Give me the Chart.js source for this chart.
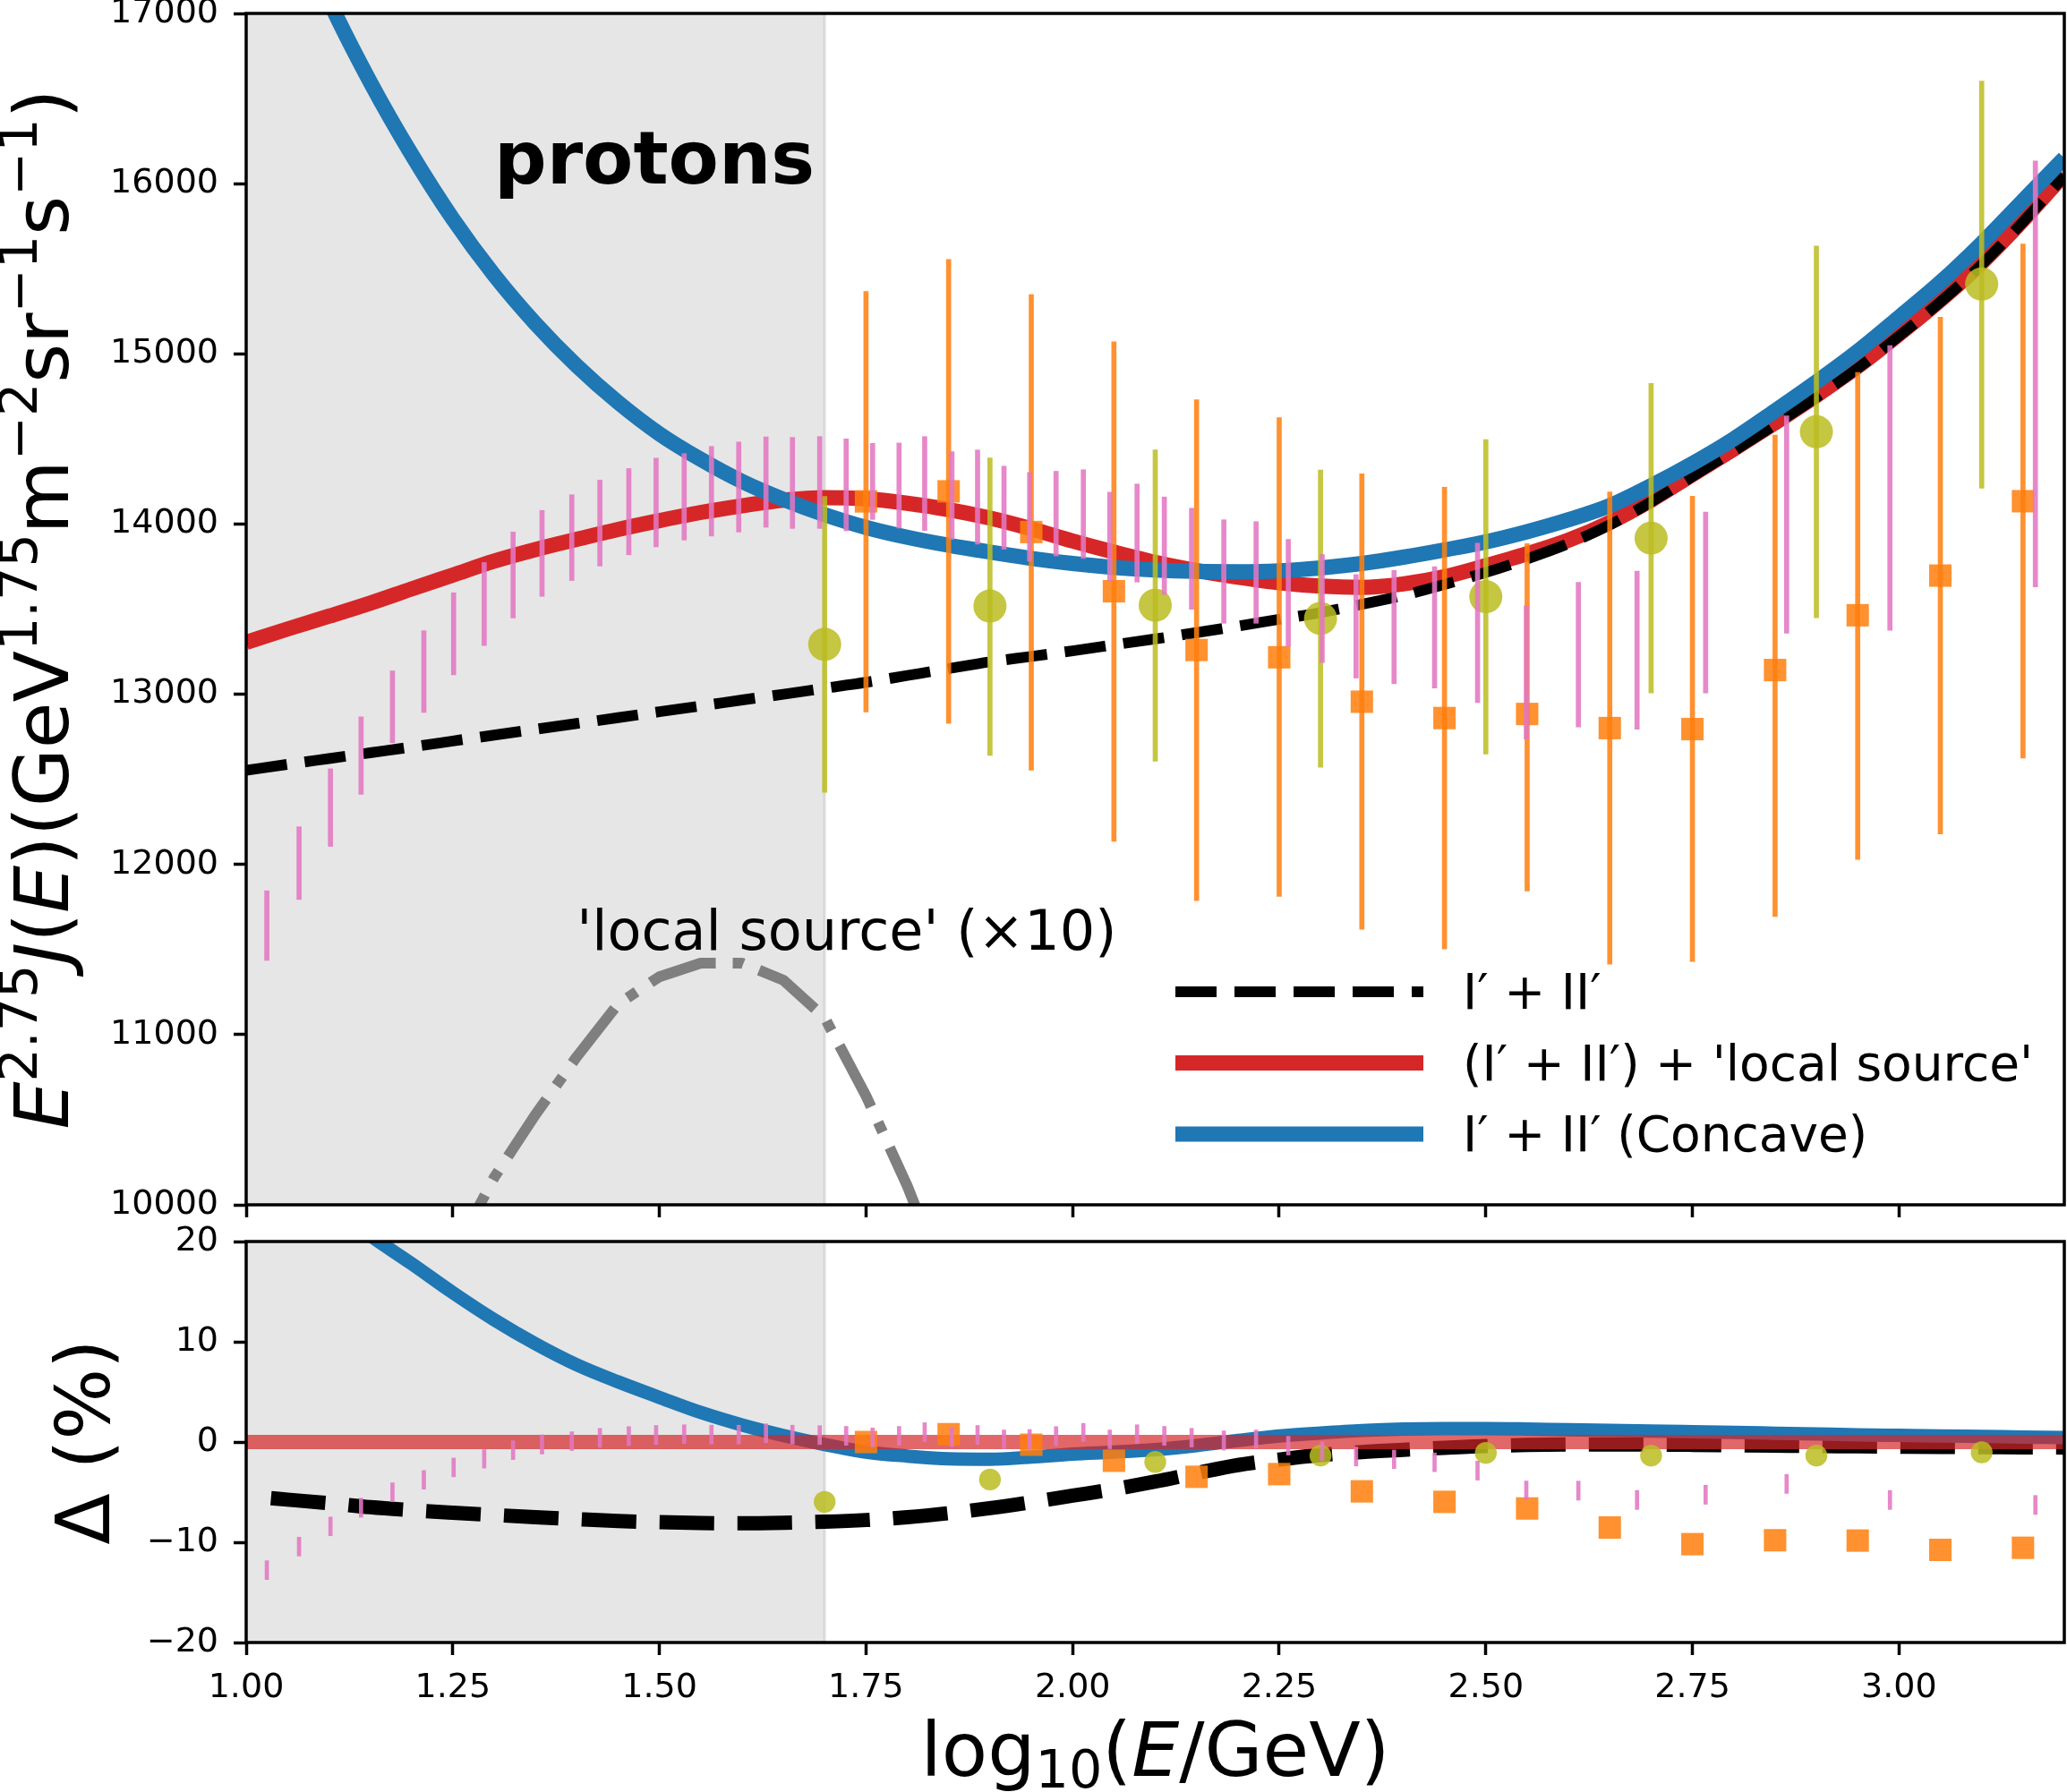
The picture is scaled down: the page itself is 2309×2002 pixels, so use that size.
<!DOCTYPE html>
<html>
<head>
<meta charset="utf-8">
<script src="https://cdn.jsdelivr.net/npm/chart.js@4.4.1/dist/chart.umd.min.js"></script>
<style>
  html, body { margin: 0; padding: 0; background: #fff; }
  #wrap { position: relative; width: 2309px; height: 2002px; overflow: hidden; background: #fff; }
  #wrap canvas { position: absolute; left: 0; }
  #topCanvas { top: -40px; width: 2309px; height: 1440px; }
  #bottomCanvas { top: 1340px; width: 2309px; height: 662px; }
</style>
</head>
<body>
<div id="wrap">
  <canvas id="topCanvas" width="2309" height="1440"></canvas>
  <canvas id="bottomCanvas" width="2309" height="662"></canvas>
</div>
<script>
// ---- axes ----
const xTickVals = [1.00, 1.25, 1.50, 1.75, 2.00, 2.25, 2.50, 2.75, 3.00];
const fluxTickVals = [10000, 11000, 12000, 13000, 14000, 15000, 16000, 17000];
const deltaTickVals = [-20, -10, 0, 10, 20];
const shadeRange = [1.00, 1.70];

// ---- model curves (top panel) ----
const modelX = [1.00, 1.05, 1.10, 1.15, 1.20, 1.25, 1.30, 1.35, 1.40, 1.45, 1.50, 1.55, 1.60, 1.65, 1.70,
  1.75, 1.80, 1.85, 1.90, 1.95, 2.00, 2.05, 2.10, 2.15, 2.20, 2.25, 2.30, 2.35, 2.40, 2.45, 2.50,
  2.55, 2.60, 2.65, 2.70, 2.75, 2.80, 2.85, 2.90, 2.95, 3.00, 3.05, 3.10, 3.15, 3.20];
const fluxBase = [12553, 12588, 12622, 12656, 12690, 12725, 12760, 12794, 12828, 12862, 12897, 12931, 12966, 13000, 13035,
  13070, 13110, 13150, 13190, 13222, 13255, 13290, 13325, 13362, 13400, 13440, 13480, 13528, 13580, 13645, 13715,
  13795, 13885, 13995, 14130, 14280, 14430, 14585, 14745, 14915, 15105, 15305, 15525, 15775, 16045];
const fluxLocal = [13305, 13383, 13458, 13535, 13618, 13700, 13782, 13850, 13910, 13968, 14020, 14068, 14107, 14140, 14155,
  14148, 14122, 14085, 14035, 13972, 13900, 13835, 13775, 13727, 13688, 13655, 13635, 13628, 13648, 13690, 13755,
  13825, 13905, 14010, 14140, 14290, 14440, 14595, 14755, 14925, 15115, 15315, 15535, 15785, 16055];
const fluxConcave = [18300, 17650, 17078, 16598, 16173, 15793, 15463, 15178, 14930, 14715, 14530, 14380, 14250, 14145, 14055,
  13980, 13922, 13875, 13835, 13798, 13768, 13745, 13730, 13722, 13720, 13725, 13742, 13768, 13805, 13848, 13895,
  13955, 14025, 14108, 14225, 14355, 14500, 14665, 14835, 15015, 15215, 15420, 15650, 15900, 16150];
const localX = [1.25, 1.30, 1.35, 1.40, 1.45, 1.50, 1.55, 1.60, 1.65, 1.70, 1.75, 1.80, 1.85];
const localSrcX10 = [9700, 10160, 10530, 10870, 11180, 11340, 11420, 11420, 11320, 11100, 10640, 10110, 9500];

// ---- data: pink (error bars only) ----
const pinkX = [1.025, 1.064, 1.102, 1.139, 1.177, 1.215, 1.251, 1.288, 1.323, 1.358, 1.394, 1.428, 1.463, 1.496,
  1.530, 1.563, 1.596, 1.629, 1.661, 1.694, 1.726, 1.758, 1.790, 1.821, 1.854, 1.885, 1.917, 1.948, 1.980,
  2.013, 2.045, 2.078, 2.111, 2.144, 2.183, 2.222, 2.261, 2.302, 2.343, 2.389, 2.438, 2.490, 2.549, 2.612,
  2.683, 2.766, 2.864, 2.989, 3.165];
const pinkLo = [11436, 11794, 12106, 12412, 12715, 12893, 13114, 13286, 13448, 13575, 13668, 13753, 13819, 13866,
  13906, 13929, 13953, 13981, 13974, 13974, 13960, 14027, 13976, 13962, 13910, 13882, 13852, 13782, 13812,
  13798, 13663, 13659, 13586, 13499, 13417, 13417, 13281, 13186, 13095, 13062, 13036, 12951, 12737, 12807,
  12795, 13008, 13359, 13375, 13630];
const pinkHi = [11845, 12221, 12562, 12867, 13137, 13373, 13596, 13774, 13953, 14080, 14172, 14258, 14326, 14387,
  14414, 14456, 14482, 14512, 14509, 14514, 14500, 14474, 14476, 14514, 14425, 14435, 14340, 14303, 14310,
  14319, 14187, 14235, 14159, 14093, 14025, 14014, 13910, 13821, 13703, 13727, 13750, 13887, 13519, 13658,
  13723, 14070, 14635, 15049, 16133];
const pinkDeltaLo = [-13.72, -11.37, -9.35, -7.50, -5.94, -4.70, -3.47, -2.60, -1.75, -1.20, -0.85, -0.54, -0.36, -0.25,
  -0.15, -0.20, -0.20, -0.06, -0.20, -0.25, -0.33, -0.48, -0.33, 0.00, -0.45, -0.25, -0.67, -0.67, -0.36,
  0.00, -0.67, -0.15, -0.33, -0.50, -0.81, -0.60, -1.30, -1.84, -2.39, -2.65, -2.96, -3.80, -5.76, -5.80,
  -6.73, -6.21, -5.13, -6.73, -7.23];
const pinkDeltaHi = [-11.84, -9.49, -7.48, -5.60, -4.07, -2.84, -1.60, -0.76, 0.12, 0.72, 1.02, 1.36, 1.54, 1.65,
  1.72, 1.68, 1.68, 1.81, 1.68, 1.63, 1.56, 1.40, 1.56, 1.93, 1.45, 1.65, 1.20, 1.25, 1.54,
  1.86, 1.20, 1.72, 1.56, 1.36, 1.11, 1.20, 0.57, 0.03, -0.51, -0.80, -1.09, -1.90, -3.89, -3.90,
  -4.83, -4.31, -3.23, -4.83, -5.33];

// ---- data: orange squares ----
const orangeX = [1.75, 1.85, 1.95, 2.05, 2.15, 2.25, 2.35, 2.45, 2.55, 2.65, 2.75, 2.85, 2.95, 3.05, 3.15];
const orangeFlux = [14133, 14192, 13953, 13605, 13260, 13217, 12956, 12860, 12884, 12801, 12795, 13142, 13464, 13697, 14134];
const orangeLo = [12895, 12829, 12554, 12136, 11787, 11812, 11619, 11503, 11844, 11414, 11429, 11694, 12029, 12179, 12625];
const orangeHi = [15367, 15555, 15348, 15071, 14730, 14625, 14295, 14216, 13885, 14188, 14163, 14523, 14890, 15215, 15645];
const orangeDelta = [0.0, 0.78, -0.27, -1.87, -3.47, -3.20, -4.92, -5.97, -6.63, -8.53, -10.19, -9.80, -9.83, -10.76, -10.55];

// ---- data: olive circles ----
const oliveX = [1.70, 1.90, 2.10, 2.30, 2.50, 2.70, 2.90, 3.10];
const oliveFlux = [13293, 13518, 13523, 13445, 13573, 13917, 14542, 15410];
const oliveLo = [12423, 12641, 12606, 12571, 12648, 13008, 13449, 14211];
const oliveHi = [14162, 14389, 14436, 14317, 14496, 14826, 15633, 16602];
const oliveDelta = [-5.97, -3.74, -1.99, -1.36, -1.09, -1.36, -1.36, -1.03];

// ---- bottom panel curves (relative to the red model) ----
const deltaLocalX = [1.00, 3.20];
const deltaLocal = [0, 0];
const deltaBaseX = [1.03, 1.05, 1.10, 1.15, 1.20, 1.25, 1.30, 1.35, 1.40, 1.45, 1.50, 1.55, 1.60, 1.65, 1.70,
  1.75, 1.80, 1.85, 1.90, 1.95, 2.00, 2.05, 2.10, 2.15, 2.20, 2.25, 2.30, 2.35, 2.40, 2.45, 2.50,
  2.55, 2.60, 2.65, 2.70, 2.75, 2.80, 2.85, 2.90, 2.95, 3.00, 3.05, 3.10, 3.15, 3.20];
const deltaBase = [-5.60, -5.75, -6.10, -6.50, -6.80, -7.05, -7.28, -7.50, -7.70, -7.88, -8.00, -8.08, -8.10, -8.05, -7.95,
  -7.78, -7.50, -7.10, -6.60, -6.00, -5.35, -4.70, -3.95, -3.10, -2.30, -1.75, -1.30, -1.00, -0.78, -0.58, -0.40,
  -0.30, -0.25, -0.24, -0.25, -0.28, -0.32, -0.36, -0.40, -0.43, -0.46, -0.49, -0.51, -0.53, -0.55];
const deltaConcave = [30.0, 26.8, 23.7, 20.6, 17.8, 14.9, 12.2, 9.8, 7.7, 6.0, 4.45, 2.95, 1.7, 0.65, -0.25,
  -1.0, -1.4, -1.68, -1.72, -1.5, -1.2, -1.0, -0.75, -0.35, 0.15, 0.6, 0.9, 1.15, 1.3, 1.35, 1.35,
  1.3, 1.22, 1.16, 1.1, 1.03, 0.96, 0.88, 0.8, 0.72, 0.66, 0.6, 0.55, 0.5, 0.45];

// ---- texts ----
const legendLabels = ['I\u2032 + II\u2032', '(I\u2032 + II\u2032) + \'local source\'', 'I\u2032 + II\u2032 (Concave)'];
const fluxLabel = [['E', 'i'], ['2.75', 'sup'], ['J', 'i'], ['('], ['E', 'i'], [')('], ['GeV'], ['1.75', 'sup'],
  ['m'], ['\u22122', 'sup'], ['sr'], ['\u22121', 'sup'], ['s'], ['\u22121', 'sup'], [')']];
const deltaLabel = [['\u0394 (%)']];
const energyLabel = [['log'], ['10', 'sub'], ['('], ['E', 'i'], ['/GeV)']];

const C = {
  blue: '#1f77b4', red: '#d62728', black: '#000000', gray: '#7f7f7f',
  orange: 'rgba(255,127,14,0.86)', olive: 'rgba(188,189,34,0.86)', pink: 'rgba(227,119,194,0.88)',
  redBand: 'rgba(214,39,40,0.7)', shade: 'rgba(128,128,128,0.2)'
};
const FAM = "'DejaVu Sans', sans-serif";
Chart.defaults.font.family = FAM;
Chart.defaults.color = '#000';

function pts(xs, ys) { return xs.map((x, i) => ({ x: x, y: ys[i] })); }
function curve(xs, ys, color, width, dash, order, smooth) {
  return {
    type: 'scatter', data: pts(xs, ys), showLine: true, pointRadius: 0, pointHoverRadius: 0,
    borderColor: color, borderWidth: width, borderDash: dash || [], borderCapStyle: 'butt',
    borderJoinStyle: 'round', cubicInterpolationMode: smooth === false ? 'default' : 'monotone',
    tension: 0, clip: 0, order: order
  };
}
function errBars(xs, lo, hi, color, thick, order) {
  return {
    type: 'bar', data: xs.map((x, i) => ({ x: x, y: [lo[i], hi[i]] })), backgroundColor: color,
    barThickness: thick, grouped: false, borderWidth: 0, clip: 0, order: order
  };
}
function markers(xs, ys, color, style, radius, order) {
  return {
    type: 'scatter', data: pts(xs, ys), pointStyle: style, pointRadius: radius, pointHoverRadius: radius,
    backgroundColor: color, borderWidth: 0, clip: 0, order: order
  };
}

// text with italic / super / subscript pieces
function drawRich(ctx, parts, x, y, size, align) {
  const fontFor = st => (st === 'i' ? 'italic ' : '') +
    ((st === 'sup' || st === 'sub') ? size * 0.7 : size) + 'px ' + FAM;
  let total = 0;
  const widths = parts.map(p => { ctx.font = fontFor(p[1]); const w = ctx.measureText(p[0]).width; total += w; return w; });
  let cx = align === 'center' ? x - total / 2 : x;
  ctx.textAlign = 'left';
  ctx.textBaseline = 'alphabetic';
  parts.forEach((p, i) => {
    ctx.font = fontFor(p[1]);
    const dy = p[1] === 'sup' ? -0.42 * size : (p[1] === 'sub' ? 0.15 * size : 0);
    ctx.fillText(p[0], cx, y + dy);
    cx += widths[i];
  });
}

const panels = {
  topCanvas: {
    yLabel: fluxLabel, yLabelOffset: 199,
    notes: [
      { text: 'protons', x: 1.30, y: 16000, font: 'bold 82px ' + FAM },
      { text: '\'local source\' (\u00d710)', x: 1.40, y: 11500, font: '62px ' + FAM }
    ],
    legend: true
  },
  bottomCanvas: { yLabel: deltaLabel, yLabelOffset: 153, xLabel: energyLabel }
};

const overlay = {
  id: 'overlay',
  beforeDatasetsDraw(chart) {
    const { ctx, chartArea: a, scales: { x } } = chart;
    const x0 = x.getPixelForValue(shadeRange[0]), x1 = x.getPixelForValue(shadeRange[1]);
    ctx.save();
    ctx.fillStyle = C.shade;
    ctx.fillRect(x0, a.top, x1 - x0, a.bottom - a.top);
    ctx.strokeStyle = C.shade;
    ctx.lineWidth = 3;
    ctx.beginPath(); ctx.moveTo(x1, a.top); ctx.lineTo(x1, a.bottom); ctx.stroke();
    ctx.restore();
  },
  afterDatasetsDraw(chart) {
    const cfg = panels[chart.canvas.id];
    const { ctx, chartArea: a, scales: { x, y } } = chart;
    ctx.save();
    ctx.strokeStyle = '#000';
    ctx.lineWidth = 3.5;
    ctx.strokeRect(a.left, a.top, a.right - a.left, a.bottom - a.top);
    ctx.fillStyle = '#000';
    ctx.textAlign = 'left';
    ctx.textBaseline = 'alphabetic';
    (cfg.notes || []).forEach(n => {
      ctx.font = n.font;
      ctx.fillText(n.text, x.getPixelForValue(n.x), y.getPixelForValue(n.y));
    });
    if (cfg.legend) {
      const items = [
        { color: C.black, width: 12, dash: [46, 20] },
        { color: C.red, width: 17, dash: [] },
        { color: C.blue, width: 17, dash: [] }
      ];
      items.forEach((it, i) => {
        const ry = a.top + 1093 + i * 79.5;
        ctx.strokeStyle = it.color;
        ctx.lineWidth = it.width;
        ctx.lineCap = 'butt';
        ctx.setLineDash(it.dash);
        ctx.beginPath(); ctx.moveTo(a.right - 993, ry); ctx.lineTo(a.right - 716, ry); ctx.stroke();
        ctx.setLineDash([]);
        ctx.font = '55px ' + FAM;
        ctx.fillText(legendLabels[i], a.right - 672, ry + 19);
      });
    }
    ctx.restore();
  },
  afterDraw(chart) {
    const cfg = panels[chart.canvas.id];
    const { ctx, chartArea: a } = chart;
    ctx.save();
    ctx.fillStyle = '#000';
    ctx.translate(a.left - cfg.yLabelOffset, (a.top + a.bottom) / 2);
    ctx.rotate(-Math.PI / 2);
    drawRich(ctx, cfg.yLabel, 0, 0, 84, 'center');
    ctx.restore();
    if (cfg.xLabel) {
      ctx.save();
      ctx.fillStyle = '#000';
      drawRich(ctx, cfg.xLabel, (a.left + a.right) / 2, a.bottom + 149, 84, 'center');
      ctx.restore();
    }
  }
};

function xScale(showLabels, height) {
  return {
    type: 'linear', min: 1.0, max: 3.2, offset: false,
    afterBuildTicks: s => { s.ticks = xTickVals.map(v => ({ value: v })); },
    afterFit: s => { s.height = height; s.paddingLeft = 0; s.paddingRight = 0; },
    ticks: { display: showLabels, autoSkip: false, maxRotation: 0, padding: 14,
      font: { size: 38 }, color: '#000', callback: v => Number(v).toFixed(2) },
    grid: { offset: false, drawOnChartArea: false, drawTicks: true, tickLength: 14, tickWidth: 3.5, tickColor: '#000' },
    border: { display: false }
  };
}
function yScale(min, max, vals, fmt) {
  return {
    type: 'linear', min: min, max: max, beginAtZero: false,
    afterBuildTicks: s => { s.ticks = vals.map(v => ({ value: v })); },
    afterFit: s => { s.width = 275; },
    ticks: { padding: 17, font: { size: 38 }, color: '#000', callback: fmt },
    grid: { drawOnChartArea: false, drawTicks: true, tickLength: 14, tickWidth: 3.5, tickColor: '#000' },
    border: { display: false }
  };
}
const common = {
  responsive: false, animation: false, devicePixelRatio: 1, events: [],
  plugins: { legend: { display: false }, tooltip: { enabled: false } }
};

new Chart(document.getElementById('topCanvas'), {
  type: 'scatter',
  data: {
    datasets: [
      errBars(pinkX, pinkLo, pinkHi, C.pink, 5, 1),
      markers(orangeX, orangeFlux, C.orange, 'rect', 17.7, 2),
      errBars(orangeX, orangeLo, orangeHi, C.orange, 5, 3),
      markers(oliveX, oliveFlux, C.olive, 'circle', 18.5, 4),
      errBars(oliveX, oliveLo, oliveHi, C.olive, 5, 5),
      curve(modelX, fluxConcave, C.blue, 17, [], 6),
      curve(modelX, fluxBase, C.black, 12, [46, 20], 7),
      curve(modelX, fluxLocal, C.red, 17, [], 8),
      curve(localX, localSrcX10, C.gray, 12, [77, 19, 12, 19], 9, false)
    ]
  },
  options: Object.assign({}, common, {
    layout: { autoPadding: false, padding: { top: 55, right: 3, left: 0, bottom: 0 } },
    scales: {
      x: xScale(false, 54),
      y: yScale(10000, 17000, fluxTickVals, v => String(v))
    }
  }),
  plugins: [overlay]
});

new Chart(document.getElementById('bottomCanvas'), {
  type: 'scatter',
  data: {
    datasets: [
      errBars(pinkX, pinkDeltaLo, pinkDeltaHi, C.pink, 4, 1),
      markers(orangeX, orangeDelta, C.orange, 'rect', 17.7, 2),
      markers(oliveX, oliveDelta, C.olive, 'circle', 12.2, 3),
      curve(deltaLocalX, deltaLocal, C.redBand, 16, [], 4, false),
      curve(modelX, deltaConcave, C.blue, 15, [], 5),
      curve(deltaBaseX, deltaBase, C.black, 16, [61, 26], 6)
    ]
  },
  options: Object.assign({}, common, {
    layout: { autoPadding: false, padding: { top: 47, right: 3, left: 0, bottom: 0 } },
    scales: {
      x: xScale(true, 167),
      y: yScale(-20, 20, deltaTickVals, v => (v < 0 ? '\u2212' + Math.abs(v) : String(v)))
    }
  }),
  plugins: [overlay]
});
</script>
</body>
</html>
